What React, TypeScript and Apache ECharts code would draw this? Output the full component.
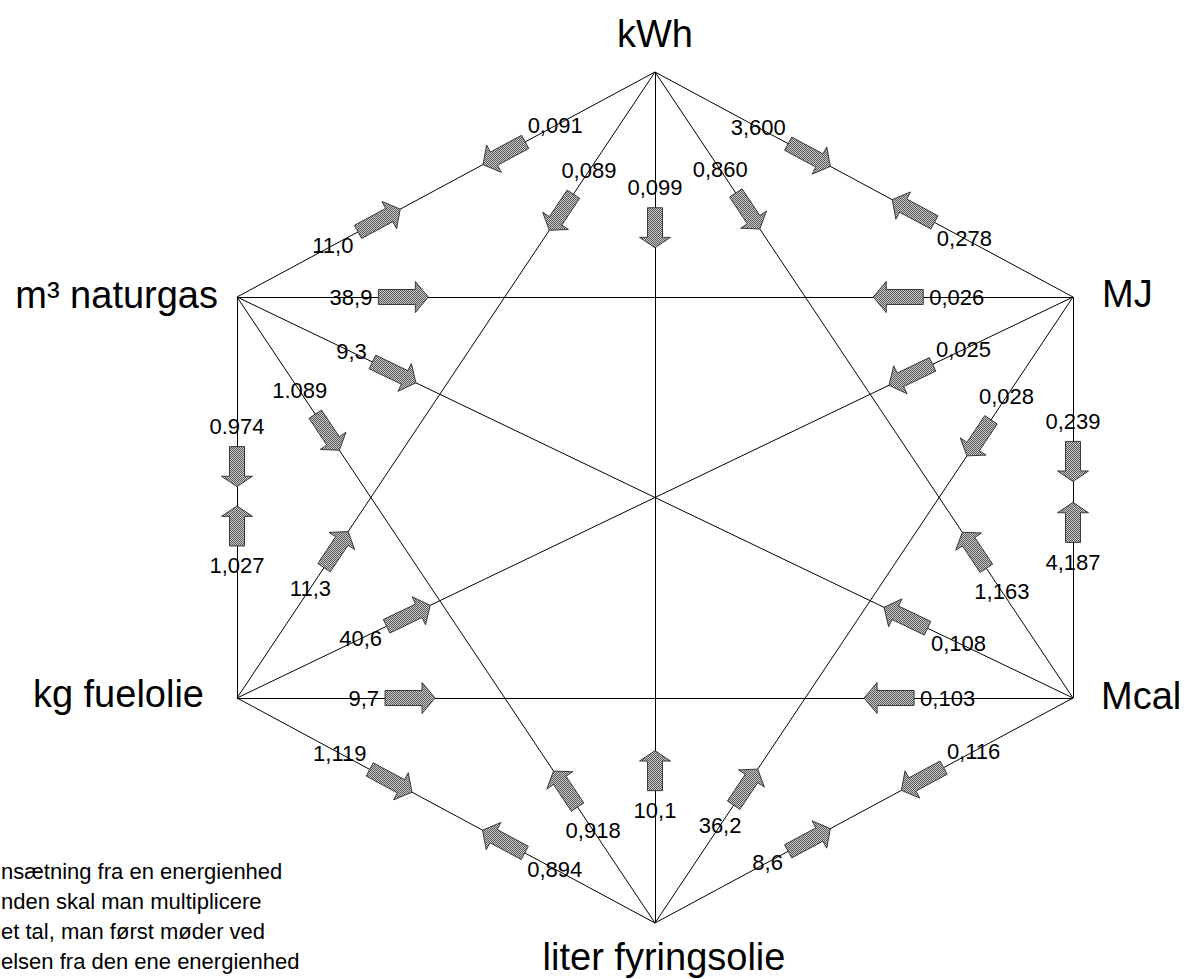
import React, { useEffect, useRef } from "react";
import * as echarts from "echarts";

// ---------- data ----------
const UNITS = ["kWh", "MJ", "Mcal", "liter fyringsolie", "kg fuelolie", "m³ naturgas"];

// each arrow: conversion from one unit to another, factor as printed
const ARROW_FROM = [
  "kWh", "m³ naturgas", "kWh", "kg fuelolie", "kWh", "liter fyringsolie",
  "kWh", "Mcal", "kWh", "MJ", "m³ naturgas", "MJ",
  "m³ naturgas", "Mcal", "m³ naturgas", "liter fyringsolie", "m³ naturgas", "kg fuelolie",
  "MJ", "kg fuelolie", "MJ", "liter fyringsolie", "MJ", "Mcal",
  "kg fuelolie", "Mcal", "Mcal", "liter fyringsolie", "kg fuelolie", "liter fyringsolie",
];
const ARROW_TO = [
  "m³ naturgas", "kWh", "kg fuelolie", "kWh", "liter fyringsolie", "kWh",
  "Mcal", "kWh", "MJ", "kWh", "MJ", "m³ naturgas",
  "Mcal", "m³ naturgas", "liter fyringsolie", "m³ naturgas", "kg fuelolie", "m³ naturgas",
  "kg fuelolie", "MJ", "liter fyringsolie", "MJ", "Mcal", "MJ",
  "Mcal", "kg fuelolie", "liter fyringsolie", "Mcal", "liter fyringsolie", "kg fuelolie",
];
const ARROW_FACTOR = [
  "0,091", "11,0", "0,089", "11,3", "0,099", "10,1",
  "0,860", "1,163", "3,600", "0,278", "38,9", "0,026",
  "9,3", "0,108", "1.089", "0,918", "0.974", "1,027",
  "0,025", "40,6", "0,028", "36,2", "0,239", "4,187",
  "9,7", "0,103", "0,116", "8,6", "1,119", "0,894",
];

const FOOTNOTE = [
  "nsætning fra en energienhed",
  "nden skal man multiplicere",
  "et tal, man først møder ved",
  "elsen fra den ene energienhed",
];

// ---------- layout (positions, sizes, styles) ----------
const UNIT_XY: [number, number][] = [
  [655, 72], [1073, 297], [1073, 698], [655, 923], [237, 698], [237, 297],
];
// where each arrow sits along its edge (fraction from its start unit)
const ARROW_POS = [
  0.361, 0.34, 0.224, 0.237, 0.183, 0.179,
  0.222, 0.236, 0.369, 0.382, 0.199, 0.209,
  0.188, 0.2, 0.216, 0.214, 0.423, 0.429,
  0.194, 0.205, 0.225, 0.217, 0.41, 0.438,
  0.207, 0.22, 0.36, 0.369, 0.368, 0.362,
];
const UNIT_LABEL_LAYOUT = [
  { position: "top", distance: 19, offset: [0, 0] },
  { position: "right", distance: 29, offset: [0, -3] },
  { position: "right", distance: 28, offset: [0, -2] },
  { position: "bottom", distance: 15, offset: [9, 0] },
  { position: "left", distance: 33, offset: [0, -4] },
  { position: "left", distance: 19, offset: [0, -2] },
];
const FONT = "'Liberation Sans', Arial, sans-serif";
const UNIT_FONT_SIZE = 38;
const FACTOR_FONT_SIZE = 22;
const ARROW_LEN_X = 50;
const ARROW_LEN_Y = 40;
const SHAFT_W = 15;
const HEAD_W = 31;
const HEAD_FRAC = 0.26;
const LABEL_GAP = 6;
const LABEL_GAP_VERTICAL = 12;
const FOOT_Y = [871.5, 901.5, 931.5, 961.5];

function textWidth(s: string, size: number) {
  let w = 0;
  for (const c of s) w += c === "," || c === "." ? 0.278 : 0.556;
  return w * size;
}

function ditherFill(): any {
  const c = document.createElement("canvas");
  c.width = 2;
  c.height = 2;
  const g = c.getContext("2d");
  if (!g) return "#909090";
  g.fillStyle = "#c8c8c8";
  g.fillRect(0, 0, 2, 2);
  g.fillStyle = "#5a5a5a";
  g.fillRect(0, 0, 1, 1);
  g.fillRect(1, 1, 1, 1);
  return { image: c, repeat: "repeat" };
}

export default function App() {
  const ref = useRef<HTMLDivElement>(null);

  useEffect(() => {
    if (!ref.current) return;
    const chart = echarts.init(ref.current, undefined, { renderer: "svg" });
    const fill = ditherFill();

    const idx = (u: string) => UNITS.indexOf(u);
    const edges: [number, number][] = [];
    ARROW_FROM.forEach((f, i) => {
      const a = idx(f);
      const b = idx(ARROW_TO[i]);
      if (!edges.some(([p, q]) => (p === a && q === b) || (p === b && q === a))) edges.push([a, b]);
    });

    const renderArrow = (params: any, api: any) => {
      const i = params.dataIndex;
      const p1 = api.coord(UNIT_XY[idx(ARROW_FROM[i])]);
      const p2 = api.coord(UNIT_XY[idx(ARROW_TO[i])]);
      const dx = p2[0] - p1[0];
      const dy = p2[1] - p1[1];
      const d = Math.hypot(dx, dy);
      const ux = dx / d;
      const uy = dy / d;
      const nx = -uy;
      const ny = ux;
      const L = Math.hypot(ARROW_LEN_X * ux, ARROW_LEN_Y * uy);
      const hl = L * HEAD_FRAC;
      const cx = p1[0] + ux * d * ARROW_POS[i];
      const cy = p1[1] + uy * d * ARROW_POS[i];
      const tail = [cx - (ux * L) / 2, cy - (uy * L) / 2];
      const tip = [cx + (ux * L) / 2, cy + (uy * L) / 2];
      const neck = [tip[0] - ux * hl, tip[1] - uy * hl];
      const s = SHAFT_W / 2;
      const h = HEAD_W / 2;
      const pts = [
        [tail[0] + nx * s, tail[1] + ny * s],
        [neck[0] + nx * s, neck[1] + ny * s],
        [neck[0] + nx * h, neck[1] + ny * h],
        tip,
        [neck[0] - nx * h, neck[1] - ny * h],
        [neck[0] - nx * s, neck[1] - ny * s],
        [tail[0] - nx * s, tail[1] - ny * s],
      ];
      const label = ARROW_FACTOR[i];
      const tw = textWidth(label, FACTOR_FONT_SIZE);
      const ext = (Math.abs(ux) * tw) / 2 + Math.abs(uy) * 8;
      const gap = Math.abs(ux) < 0.01 ? LABEL_GAP_VERTICAL : LABEL_GAP;
      const back = L / 2 + gap + ext;
      return {
        type: "group",
        children: [
          {
            type: "polygon",
            shape: { points: pts },
            style: { fill, stroke: "#3a3a3a", lineWidth: 1 },
          },
          {
            type: "text",
            x: cx - ux * back,
            y: cy - uy * back,
            style: {
              text: label,
              fill: "#000",
              fontSize: FACTOR_FONT_SIZE,
              fontFamily: FONT,
              align: "center",
              verticalAlign: "middle",
            },
          },
        ],
      };
    };

    chart.setOption({
      animation: false,
      backgroundColor: "#ffffff",
      grid: { left: 0, right: 0, top: 0, bottom: 0 },
      xAxis: { type: "value", min: 0, max: 1188, show: false },
      yAxis: { type: "value", min: 0, max: 979, inverse: true, show: false },
      graphic: FOOTNOTE.map((t, i) => ({
        type: "text",
        x: 1,
        y: FOOT_Y[i],
        style: { text: t, fill: "#000", fontSize: 22, fontFamily: FONT, verticalAlign: "middle" },
      })),
      series: [
        {
          type: "lines",
          coordinateSystem: "cartesian2d",
          silent: true,
          z: 1,
          lineStyle: { color: "#000", width: 1, opacity: 1 },
          data: edges.map(([a, b]) => ({ coords: [UNIT_XY[a], UNIT_XY[b]] })),
        },
        {
          type: "custom",
          coordinateSystem: "cartesian2d",
          z: 2,
          clip: false,
          silent: true,
          data: ARROW_FACTOR.map((_, i) => [i, 0]),
          renderItem: renderArrow,
        },
        {
          type: "scatter",
          z: 3,
          symbolSize: 0,
          silent: true,
          itemStyle: { opacity: 1 },
          data: UNITS.map((u, i) => ({
            name: u,
            value: UNIT_XY[i],
            label: {
              show: true,
              formatter: "{b}",
              position: UNIT_LABEL_LAYOUT[i].position,
              distance: UNIT_LABEL_LAYOUT[i].distance,
              offset: UNIT_LABEL_LAYOUT[i].offset,
              fontSize: UNIT_FONT_SIZE,
              fontFamily: FONT,
              color: "#000000",
              opacity: 1,
              textBorderWidth: 0,
            },
          })),
        },
      ],
    });

    return () => chart.dispose();
  }, []);

  return (
    <div
      ref={ref}
      style={{ position: "absolute", left: 0, top: 0, width: "1188px", height: "979px", background: "#fff" }}
    />
  );
}
